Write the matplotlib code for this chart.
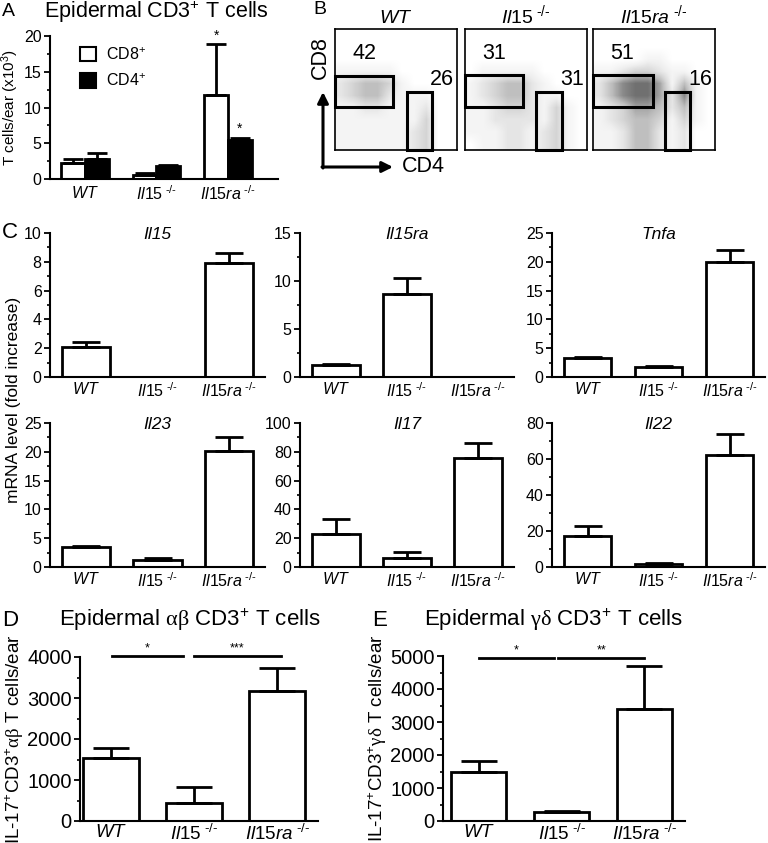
import numpy as np
import matplotlib.pyplot as plt
from matplotlib.patches import Rectangle
from matplotlib.ticker import AutoMinorLocator, MultipleLocator

plt.rcParams['font.family'] = ['Liberation Sans', 'DejaVu Sans']
plt.rcParams['mathtext.fontset'] = 'custom'
plt.rcParams['mathtext.rm'] = 'Liberation Sans'
plt.rcParams['mathtext.it'] = 'Liberation Sans:italic'
plt.rcParams['mathtext.bf'] = 'Liberation Sans:bold'
plt.rcParams['mathtext.sf'] = 'Liberation Serif'

W, H = 768, 843
fig = plt.figure(figsize=(W / 100, H / 100), dpi=100)

genotypes = [r'$\mathit{WT}$', r'$\mathit{Il15}^{\ \mathit{‐/‐}}$', r'$\mathit{Il15ra}^{\ \mathit{‐/‐}}$']

# panel A
cd8_mean = [2.3, 0.6, 11.8]
cd8_err = [2.8, 0.8, 18.9]
cd4_mean = [2.8, 1.8, 5.4]
cd4_err = [3.7, 1.9, 5.8]

# panel B  (gate percentages and coarse dot density, rows top->bottom)
flow_titles = genotypes
cd8_pct = ['42', '31', '51']
cd4_pct = ['26', '31', '16']
dens_wt = [[0, 0, 0, 0, 0, 0, 0, 0, 0, 0],
           [0, 0, 0, 0, 0, 0, 0, 0, 0, 0],
           [0, 0, 0, 0, 0, 0, 0, 0, 0, 0],
           [1, 1, 1, 1, 1, 0, 0, 0, 0, 0],
           [2, 3, 4, 4, 3, 1, 0, 0, 0, 0],
           [2, 3, 4, 4, 2, 1, 1, 1, 0, 0],
           [1, 1, 2, 2, 1, 1, 1, 2, 0, 0],
           [1, 1, 1, 1, 1, 1, 1, 3, 0, 0],
           [1, 1, 1, 1, 1, 1, 2, 3, 0, 0],
           [1, 1, 1, 1, 1, 1, 2, 3, 0, 0]]
dens_il15 = [[0, 0, 0, 0, 0, 0, 0, 0, 0, 0],
             [0, 0, 0, 0, 0, 0, 0, 0, 0, 0],
             [0, 0, 0, 0, 0, 0, 0, 0, 0, 0],
             [0, 1, 1, 1, 1, 1, 0, 0, 0, 0],
             [1, 2, 3, 4, 4, 2, 1, 0, 0, 0],
             [1, 2, 3, 4, 4, 2, 1, 1, 0, 0],
             [1, 1, 2, 3, 3, 2, 1, 3, 1, 0],
             [1, 1, 2, 2, 2, 2, 1, 3, 1, 0],
             [1, 1, 1, 2, 2, 1, 2, 3, 1, 0],
             [0, 1, 1, 2, 2, 1, 2, 3, 1, 0]]
dens_il15ra = [[0, 0, 0, 0, 0, 0, 0, 0, 0, 0],
               [0, 0, 0, 0, 0, 0, 0, 0, 0, 0],
               [0, 0, 0, 0, 1, 1, 0, 0, 0, 0],
               [1, 1, 2, 3, 3, 2, 1, 1, 0, 0],
               [2, 4, 6, 7, 7, 5, 1, 4, 1, 0],
               [2, 4, 6, 7, 7, 5, 2, 6, 1, 0],
               [1, 2, 3, 5, 5, 4, 2, 4, 1, 0],
               [1, 2, 3, 4, 4, 3, 1, 3, 1, 0],
               [1, 1, 2, 4, 4, 2, 1, 2, 0, 0],
               [1, 1, 2, 4, 4, 2, 1, 2, 0, 0]]
cd8_gates = [(0.0, 0.355, 0.475, 0.255), (0.0, 0.355, 0.475, 0.265), (0.0, 0.355, 0.49, 0.265)]
cd4_gates = [(0.59, 0.0, 0.205, 0.48), (0.58, 0.0, 0.215, 0.48), (0.59, 0.0, 0.205, 0.48)]

# panel C
genes = ['Il15', 'Il15ra', 'Tnfa', 'Il23', 'Il17', 'Il22']
mrna_mean = [[2.1, 0, 7.95], [1.3, 8.6, 0], [3.3, 1.7, 20.0],
             [3.4, 1.3, 20.2], [23, 6.2, 75.5], [17, 1.5, 62]]
mrna_err = [[2.4, 0, 8.6], [1.4, 10.3, 0], [3.5, 1.9, 22.0],
            [3.6, 1.5, 22.6], [33, 10.4, 86], [23, 2.0, 74]]
mrna_ymax = [10, 15, 25, 25, 100, 80]
mrna_step = [2, 5, 5, 5, 20, 20]

# panel D / E
ab_mean = [1530, 450, 3170]
ab_err = [1780, 820, 3720]
gd_mean = [1500, 270, 3380]
gd_err = [1830, 310, 4700]


def px_axes(l, t, r, b):
    return fig.add_axes([l / W, 1 - b / H, (r - l) / W, (b - t) / H])


def style(ax, ymax, step, fs, xpad=4):
    for s in ['top', 'right']:
        ax.spines[s].set_visible(False)
    for s in ['left', 'bottom']:
        ax.spines[s].set_linewidth(1.5)
    ax.set_ylim(0, ymax)
    ax.yaxis.set_major_locator(MultipleLocator(step))
    ax.yaxis.set_minor_locator(AutoMinorLocator(2))
    ax.tick_params(axis='y', direction='out', length=4, width=1.3, labelsize=fs, pad=2)
    ax.tick_params(axis='y', which='minor', direction='out', length=2.5, width=1.2)
    ax.tick_params(axis='x', length=0, labelsize=fs, pad=xpad)
    ax.set_xticks([0, 1, 2])
    ax.set_xticklabels(genotypes)


def bars(ax, x, mean, err, width, cap, color='white'):
    x = np.asarray(x, float)
    mean = np.asarray(mean, float)
    err = np.asarray(err, float)
    keep = mean > 0
    ax.bar(x[keep], mean[keep], width, color=color, edgecolor='black', linewidth=2, zorder=2)
    ax.errorbar(x[keep], mean[keep], yerr=[np.zeros(keep.sum()), err[keep] - mean[keep]],
                fmt='none', ecolor='black', elinewidth=2, capsize=cap, capthick=2, zorder=3)


# ---- A
axA = px_axes(50, 36, 278, 179)
style(axA, 20, 5, 11.5)
xs = np.arange(3)
bars(axA, xs - 0.165, cd8_mean, cd8_err, 0.33, 7, 'white')
bars(axA, xs + 0.165, cd4_mean, cd4_err, 0.33, 7, 'black')
axA.set_xlim(-0.49, 2.7)
axA.text(2 - 0.165, cd8_err[2] + 0.2, '*', ha='center', va='bottom', fontsize=10)
axA.text(2 + 0.165, cd4_err[2] + 0.2, '*', ha='center', va='bottom', fontsize=10)
axA.set_ylabel(r'T cells/ear (x10$^{3}$)', fontsize=11)
axA.yaxis.set_label_coords(-0.125, 0.5)
hA = [Rectangle((0, 0), 1, 1, fc='white', ec='black', lw=1.5),
      Rectangle((0, 0), 1, 1, fc='black', ec='black', lw=1.5)]
axA.legend(hA, [r'CD8$^{+}$', r'CD4$^{+}$'], loc='upper left', bbox_to_anchor=(0.07, 1.03),
           frameon=False, fontsize=11.5, handlelength=1.0, handleheight=1.0,
           handletextpad=0.6, labelspacing=0.6)
fig.text(2 / W, 1 - 12 / H, 'A', fontsize=14, va='center', ha='left')
fig.text(156 / W, 1 - 12 / H, r'Epidermal CD3$^{+}$ T cells', fontsize=15.5, va='center', ha='center')

# ---- B
boxes = [(335, 457), (465, 587), (593, 715)]
dens_all = [dens_wt, dens_il15, dens_il15ra]
for i, (l, r) in enumerate(boxes):
    ax = px_axes(l, 29, r, 150)
    ax.imshow(np.array(dens_all[i], float), extent=(0, 1, 0, 1), cmap='Greys',
              vmin=0, vmax=11, interpolation='bilinear', aspect='auto', zorder=0)
    ax.set_xlim(0, 1)
    ax.set_ylim(0, 1)
    ax.set_xticks([])
    ax.set_yticks([])
    for s in ax.spines.values():
        s.set_linewidth(1.2)
    for g in (cd8_gates[i], cd4_gates[i]):
        ax.add_patch(Rectangle(g[:2], g[2], g[3], fill=False, ec='black', lw=2.2, zorder=3, clip_on=False))
    ax.text(0.24, 0.80, cd8_pct[i], fontsize=15.5, ha='center', va='center')
    ax.text(0.88, 0.58, cd4_pct[i], fontsize=15.5, ha='center', va='center')
    ax.set_title(flow_titles[i], fontsize=14, pad=4)
fig.text(313 / W, 1 - 10 / H, 'B', fontsize=14, va='center', ha='left')

ov = fig.add_axes([0, 0, 1, 1], zorder=-1)
ov.set_xlim(0, W)
ov.set_ylim(H, 0)
ov.axis('off')
ov.annotate('', xy=(323, 92), xytext=(323, 168),
            arrowprops=dict(arrowstyle='-|>', lw=2.2, color='black', mutation_scale=16, shrinkA=0, shrinkB=0))
ov.annotate('', xy=(393, 167), xytext=(322, 167),
            arrowprops=dict(arrowstyle='-|>', lw=2.2, color='black', mutation_scale=16, shrinkA=0, shrinkB=0))
ov.text(320, 58, 'CD8', rotation=90, fontsize=15.5, ha='center', va='center')
ov.text(423, 166, 'CD4', fontsize=15.5, ha='center', va='center')

# ---- C
cols = [(50, 265), (300, 514), (552, 765)]
rows = [(233, 377), (423, 567)]
for k, g in enumerate(genes):
    l, r = cols[k % 3]
    t, b = rows[k // 3]
    ax = px_axes(l, t, r, b)
    style(ax, mrna_ymax[k], mrna_step[k], 11.5, xpad=3)
    bars(ax, xs, mrna_mean[k], mrna_err[k], 0.67, 10)
    ax.set_xlim(-0.5, 2.5)
    ax.text(0.5, 0.99, g, transform=ax.transAxes, fontsize=12.5, style='italic',
            ha='center', va='center')
fig.text(2 / W, 1 - 233 / H, 'C', fontsize=16, va='center', ha='left')
fig.text(14 / W, 1 - 400 / H, 'mRNA level (fold increase)', rotation=90, fontsize=12.5,
         va='center', ha='center')

# ---- D
axD = px_axes(80, 657, 318, 821)
style(axD, 4000, 1000, 14.5, xpad=2)
axD.tick_params(axis='x', labelsize=13.5)
bars(axD, xs, ab_mean, ab_err, 0.67, 13)
axD.set_xlim(-0.37, 2.49)
axD.plot([0.01, 0.87], [4020, 4020], color='black', lw=2, clip_on=False)
axD.plot([1.0, 2.04], [4020, 4020], color='black', lw=2, clip_on=False)
axD.text(0.44, 4060, '*', ha='center', va='bottom', fontsize=9)
axD.text(1.52, 4060, '***', ha='center', va='bottom', fontsize=9)
axD.set_ylabel(r'IL-17$^{+}$CD3$^{+}$$\mathsf{\alpha\beta}$ T cells/ear', fontsize=13.5, labelpad=1)
fig.text(2 / W, 1 - 620 / H, 'D', fontsize=16, va='center', ha='left')
fig.text(190 / W, 1 - 620 / H, r'Epidermal $\mathsf{\alpha\beta}$ CD3$^{+}$ T cells', fontsize=16,
         va='center', ha='center')

# ---- E
axE = px_axes(443, 656, 685, 821)
style(axE, 5000, 1000, 14.5, xpad=2)
axE.tick_params(axis='x', labelsize=13.5)
bars(axE, xs, gd_mean, gd_err, 0.67, 13)
axE.set_xlim(-0.43, 2.49)
axE.plot([0.0, 0.91], [4940, 4940], color='black', lw=2, clip_on=False)
axE.plot([0.96, 2.0], [4940, 4940], color='black', lw=2, clip_on=False)
axE.text(0.45, 4990, '*', ha='center', va='bottom', fontsize=9)
axE.text(1.48, 4990, '**', ha='center', va='bottom', fontsize=9)
axE.set_ylabel(r'IL-17$^{+}$CD3$^{+}$$\mathsf{\gamma\delta}$ T cells/ear', fontsize=13.5, labelpad=1)
fig.text(372 / W, 1 - 620 / H, 'E', fontsize=16, va='center', ha='left')
fig.text(553 / W, 1 - 620 / H, r'Epidermal $\mathsf{\gamma\delta}$ CD3$^{+}$ T cells', fontsize=16,
         va='center', ha='center')

fig.savefig('out.png', dpi=100)
